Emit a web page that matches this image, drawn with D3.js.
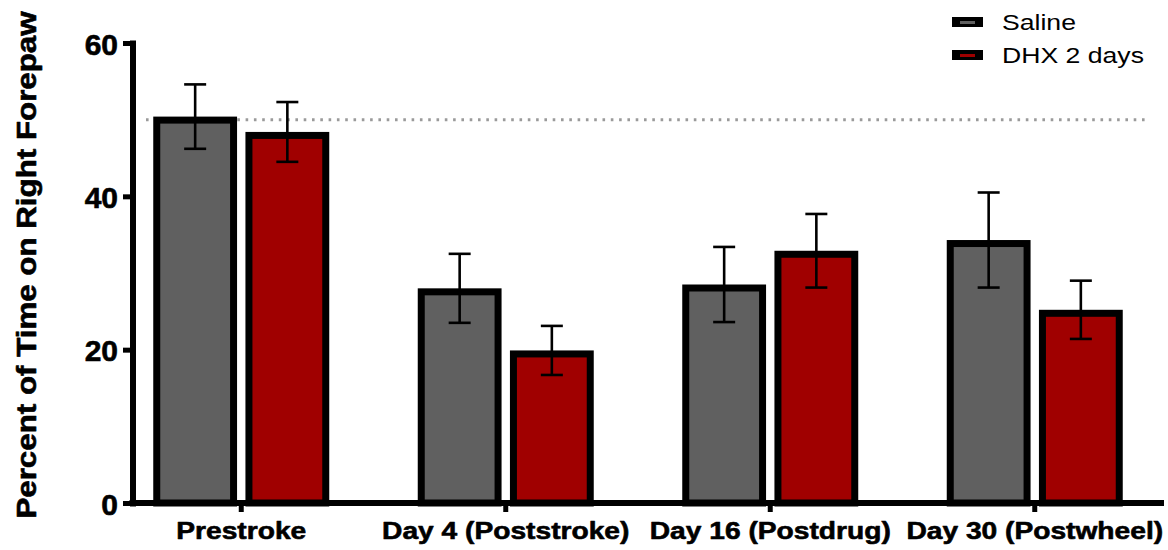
<!DOCTYPE html>
<html>
<head>
<meta charset="utf-8">
<script src="https://cdn.jsdelivr.net/npm/d3@7/dist/d3.min.js"></script>
<style>
  html, body { margin: 0; padding: 0; background: #fff; }
  svg { display: block; font-family: Arial, "Liberation Sans", Helvetica, sans-serif; }
  .heavy { stroke: #000; stroke-width: 0.6px; stroke-linejoin: round; }
</style>
</head>
<body>
<svg id="chart" width="1168" height="550"></svg>
<script>
// Time spent on the right forepaw, by session and treatment group (mean ± SEM)
const categories = ["Prestroke", "Day 4 (Poststroke)", "Day 16 (Postdrug)", "Day 30 (Postwheel)"];
const groups = ["Saline", "DHX 2 days"];
const salineMean = [50.4, 28.0, 28.5, 34.3];
const salineSem  = [4.2, 4.5, 4.9, 6.2];
const dhxMean    = [48.4, 19.9, 32.9, 25.2];
const dhxSem     = [3.9, 3.2, 4.8, 3.8];
const yTicks = [0, 20, 40, 60];
const referenceLevel = 50;

const colors = { "Saline": "#606060", "DHX 2 days": "#a00000" };
const series = [
  { name: "Saline", mean: salineMean, sem: salineSem },
  { name: "DHX 2 days", mean: dhxMean, sem: dhxSem }
];

const svg = d3.select("#chart");

const y = d3.scaleLinear().domain([0, 60]).range([503, 43]);
const x = d3.scaleBand().domain(categories).range([109, 1167]).paddingInner(0).paddingOuter(0);
const xInner = d3.scaleBand().domain(groups).range([-88, 88]).paddingInner(0.0909).paddingOuter(0);

const axisX = 132.5;

// dotted reference line at 50%
svg.append("line")
  .attr("x1", 146).attr("x2", 1146)
  .attr("y1", y(referenceLevel)).attr("y2", y(referenceLevel))
  .attr("stroke", "#9a9a9a")
  .attr("stroke-width", 3)
  .attr("stroke-dasharray", "2.6 5.7");

// bars, border drawn inside the bar outline
const border = 7;
const rows = [];
categories.forEach((c, i) => {
  series.forEach(s => rows.push({ cat: c, group: s.name, v: s.mean[i], e: s.sem[i] }));
});

const barG = svg.append("g");
barG.selectAll("rect.bar").data(rows).join("rect")
  .attr("class", "bar")
  .attr("x", d => x(d.cat) + x.bandwidth() / 2 + xInner(d.group) + border / 2)
  .attr("y", d => y(d.v) + border / 2)
  .attr("width", xInner.bandwidth() - border)
  .attr("height", d => y(0) - y(d.v) - border / 2)
  .attr("fill", d => colors[d.group])
  .attr("stroke", "#000")
  .attr("stroke-width", border);

// error bars
const capHalf = 11;
const errG = svg.append("g").attr("stroke", "#000").attr("stroke-width", 2.6);
rows.forEach(d => {
  const cx = x(d.cat) + x.bandwidth() / 2 + xInner(d.group) + xInner.bandwidth() / 2;
  errG.append("line").attr("x1", cx).attr("x2", cx).attr("y1", y(d.v + d.e)).attr("y2", y(d.v - d.e));
  errG.append("line").attr("x1", cx - capHalf).attr("x2", cx + capHalf).attr("y1", y(d.v + d.e)).attr("y2", y(d.v + d.e));
  errG.append("line").attr("x1", cx - capHalf).attr("x2", cx + capHalf).attr("y1", y(d.v - d.e)).attr("y2", y(d.v - d.e));
});

// y axis
const yAxis = svg.append("g")
  .attr("transform", `translate(${axisX},0)`)
  .call(d3.axisLeft(y).tickValues(yTicks).tickSize(9.5).tickSizeOuter(0).tickPadding(5));
yAxis.select(".domain").attr("stroke", "#000").attr("stroke-width", 6).attr("stroke-linecap", "square");
yAxis.selectAll(".tick line").attr("stroke", "#000").attr("stroke-width", 5);
yAxis.selectAll(".tick text")
  .attr("class", "heavy")
  .attr("fill", "#000")
  .attr("font-size", 30)
  .attr("font-weight", "bold")
  .attr("dy", "0.37em")
  .style("font-family", "Arial, 'Liberation Sans', sans-serif");

// x axis
const xAxis = svg.append("g")
  .attr("transform", `translate(0,${y(0)})`)
  .call(d3.axisBottom(x).tickSize(9).tickSizeOuter(0).tickFormat(""));
xAxis.select(".domain").remove();
xAxis.selectAll(".tick line").attr("stroke", "#000").attr("stroke-width", 5);
xAxis.append("line")
  .attr("x1", axisX - 3).attr("x2", 1164)
  .attr("y1", 0).attr("y2", 0)
  .attr("stroke", "#000").attr("stroke-width", 6);

// category labels (slightly widened lettering)
svg.append("g").selectAll("text").data(categories).join("text")
  .attr("class", "heavy")
  .attr("transform", d => `translate(${x(d) + x.bandwidth() / 2},538.5) scale(1.15,1)`)
  .attr("text-anchor", "middle")
  .attr("font-size", 24.5)
  .attr("font-weight", "bold")
  .attr("fill", "#000")
  .text(d => d);

// y-axis title
svg.append("text")
  .attr("class", "heavy")
  .attr("transform", "translate(35.5,265) rotate(-90) scale(1.16,1)")
  .attr("text-anchor", "middle")
  .attr("font-size", 27)
  .attr("font-weight", "bold")
  .attr("fill", "#000")
  .text("Percent of Time on Right Forepaw");

// legend
const legend = svg.append("g");
groups.forEach((g, i) => {
  const top = 17 + i * 33;
  legend.append("rect").attr("x", 952).attr("y", top).attr("width", 31).attr("height", 10).attr("fill", "#000");
  legend.append("rect").attr("x", 960).attr("y", top + 4).attr("width", 15).attr("height", 3).attr("fill", colors[g]);
  legend.append("text")
    .attr("transform", `translate(1002,${top + 13}) scale(1.21,1)`)
    .attr("font-size", 22)
    .attr("fill", "#000")
    .text(g);
});
</script>
</body>
</html>
